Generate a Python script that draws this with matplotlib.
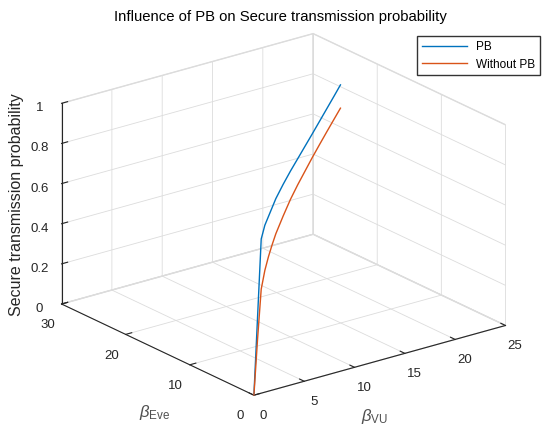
import numpy as np
import matplotlib
matplotlib.use("Agg")
import matplotlib.pyplot as plt
from matplotlib.ticker import FormatStrFormatter

plt.rcParams['font.family'] = ['Liberation Sans', 'DejaVu Sans']
plt.rcParams['mathtext.fontset'] = 'custom'
plt.rcParams['mathtext.rm'] = 'Liberation Sans'
plt.rcParams['mathtext.it'] = 'Liberation Sans:italic'

# beta values (beta_VU = beta_Eve along the sweep)
beta = [0, 1, 2, 3, 4, 5, 6, 8, 10, 12, 14, 16, 18, 20, 22, 23.7]
p_pb = [0, 0.36, 0.72, 0.76, 0.775, 0.79, 0.805, 0.818, 0.826, 0.830,
        0.834, 0.838, 0.843, 0.848, 0.853, 0.858]
p_nopb = [0, 0.25, 0.47, 0.535, 0.575, 0.605, 0.63, 0.66, 0.685, 0.70,
          0.71, 0.72, 0.727, 0.733, 0.738, 0.742]

xticks = [0, 5, 10, 15, 20, 25]
yticks = [0, 10, 20, 30]
zticks = [0, 0.2, 0.4, 0.6, 0.8, 1]

blue = '#0072BD'
orange = '#D95319'
axcol = '#262626'
gridcol = '#DCDCDC'

W, H = 542, 425
fig = plt.figure(figsize=(W / 100, H / 100), dpi=100)
ax = fig.add_axes([0.0125, -0.018, 1.0, 1.0], projection='3d', proj_type='ortho')
ax.set_box_aspect((1, 1, 0.68), zoom=1.135)
ax.view_init(elev=21.25, azim=-127.4)

ax.plot(beta, beta, p_pb, color=blue, lw=1.0, label='PB')
ax.plot(beta, beta, p_nopb, color=orange, lw=1.0, label='Without PB')

ax.set_xlim(0, 25)
ax.set_ylim(0, 30)
ax.set_zlim(0, 1)
ax.set_xticks(xticks)
ax.set_yticks(yticks)
ax.set_zticks(zticks)
ax.zaxis.set_major_formatter(FormatStrFormatter('%g'))

for a in (ax.xaxis, ax.yaxis, ax.zaxis):
    a.set_pane_color((1, 1, 1, 1))
    a.pane.set_edgecolor(gridcol)
    a.line.set_color(axcol)
    a.line.set_linewidth(0.8)
    a._axinfo['grid']['color'] = gridcol
    a._axinfo['grid']['linewidth'] = 0.6
    a._axinfo['tick']['inward_factor'] = 0.0
    a._axinfo['tick']['outward_factor'] = 0.3
    a._axinfo['tick']['color'] = axcol

ax.tick_params(labelsize=9.5, colors=axcol, pad=0)
ax.tick_params(axis='y', pad=1)

# axis titles placed in figure coordinates
fig.text(155 / W, 1 - 412 / H, r'$\beta_{\mathrm{Eve}}$', fontsize=12, color='#505050',
         ha='center', va='center')
fig.text(375 / W, 1 - 416 / H, r'$\beta_{\mathrm{VU}}$', fontsize=12, color='#505050',
         ha='center', va='center')
fig.text(17 / W, 1 - 205 / H, 'Secure transmission probability', fontsize=11.5,
         color=axcol, rotation=90, ha='center', va='center')
fig.text(280 / W, 1 - 17 / H, 'Influence of PB on Secure transmission probability',
         fontsize=10.7, color='black', ha='center', va='center')

ax.legend(loc='upper right', bbox_to_anchor=(540 / W, 1 - 36 / H),
          bbox_transform=fig.transFigure, fontsize=8.5, frameon=True, fancybox=False,
          edgecolor='black', handlelength=3.8, borderaxespad=0)

fig.savefig('out.png', dpi=100)
